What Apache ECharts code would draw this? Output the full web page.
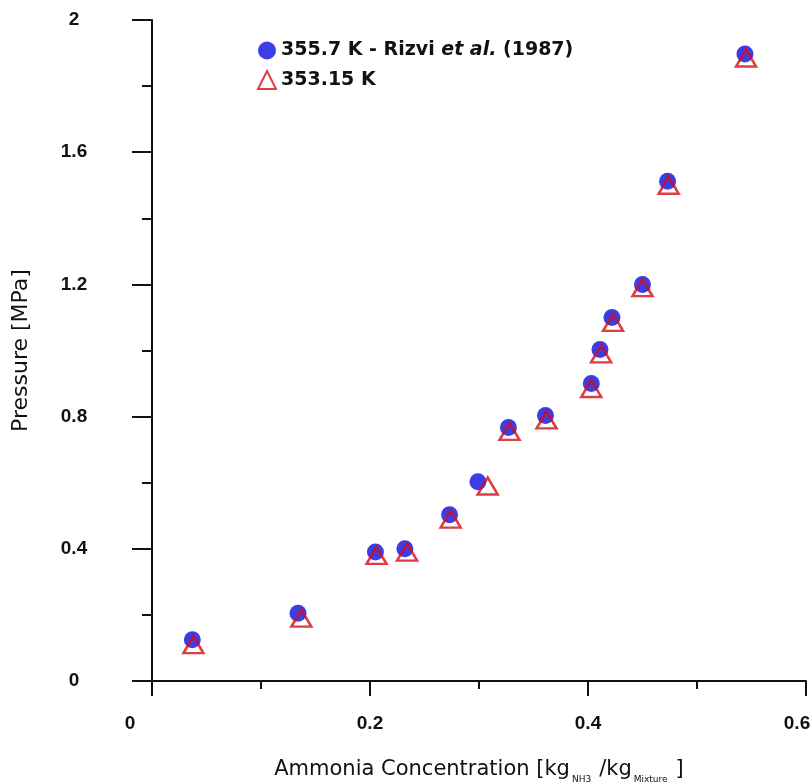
<!DOCTYPE html>
<html>
<head>
<meta charset="utf-8">
<script src="https://cdn.jsdelivr.net/npm/echarts@6/dist/echarts.min.js"></script>
<style>
  html, body { margin: 0; padding: 0; background: #fff; }
  #pressureChart { width: 812px; height: 784px; }
</style>
</head>
<body>
<div id="pressureChart"></div>
<script>
// Rizvi et al. (1987) at 355.7 K
var rizviX = [0.037, 0.134, 0.205, 0.232, 0.273, 0.299, 0.327, 0.361, 0.403, 0.411, 0.422, 0.450, 0.473, 0.544];
var rizviP = [0.125, 0.205, 0.39, 0.40, 0.503, 0.603, 0.767, 0.803, 0.90, 1.003, 1.10, 1.20, 1.512, 1.897];
// model at 353.15 K
var modelX = [0.038, 0.137, 0.206, 0.234, 0.274, 0.308, 0.328, 0.362, 0.403, 0.412, 0.423, 0.450, 0.474, 0.545];
var modelP = [0.11, 0.19, 0.38, 0.39, 0.49, 0.59, 0.755, 0.79, 0.885, 0.99, 1.085, 1.19, 1.50, 1.885];

var seriesNames = ['355.7 K - Rizvi et al. (1987)', '353.15 K'];

function pairs(xs, ys) {
  return xs.map(function (x, i) { return [x, ys[i]]; });
}

document.addEventListener("DOMContentLoaded", () => {
  echarts.init(document.querySelector("#pressureChart")).setOption({
    animation: false,
    backgroundColor: '#fff',
    grid: {
      left: 152,
      right: 6,
      top: 20,
      bottom: 103,
      containLabel: false,
      outerBoundsMode: 'none'
    },
    legend: {
      orient: 'vertical',
      left: 252,
      top: 36,
      itemGap: 10,
      itemWidth: 18,
      itemHeight: 18,
      data: seriesNames,
      formatter: function (name) {
        if (name === seriesNames[0]) return '355.7 K - Rizvi {i|et al.} (1987)';
        return name;
      },
      textStyle: {
        fontFamily: 'DejaVu Sans',
        fontWeight: 'bold',
        fontSize: 19,
        color: '#111',
        rich: {
          i: {
            fontFamily: 'DejaVu Sans',
            fontWeight: 'bold',
            fontStyle: 'italic',
            fontSize: 19,
            color: '#111'
          }
        }
      }
    },
    xAxis: {
      type: 'value',
      min: 0,
      max: 0.6,
      interval: 0.2,
      name: '{a|Ammonia Concentration [kg}{s|NH3}{a|/kg}{s|Mixture}{a|]}',
      nameLocation: 'middle',
      nameGap: 78,
      nameTextStyle: {
        rich: {
          a: {
            fontFamily: 'DejaVu Sans',
            fontSize: 21,
            color: '#111',
            lineHeight: 24,
            verticalAlign: 'top'
          },
          s: {
            fontFamily: 'DejaVu Sans',
            fontSize: 9,
            color: '#111',
            lineHeight: 24,
            verticalAlign: 'top',
            padding: [16, 8, 0, 2]
          }
        }
      },
      axisLine: { lineStyle: { color: '#111', width: 2 } },
      axisTick: { length: 15, lineStyle: { color: '#111', width: 2 } },
      minorTick: { show: true, splitNumber: 2, length: 8, lineStyle: { color: '#111', width: 2 } },
      splitLine: { show: false },
      axisLabel: {
        margin: 33,
        fontFamily: 'Liberation Sans',
        fontWeight: 'bold',
        fontSize: 19,
        color: '#111',
        formatter: function (v) {
          if (v === 0) return '{z|0}';
          if (Math.abs(v - 0.6) < 1e-6) return '{e|0.6}';
          return '{n|' + v.toFixed(1) + '}';
        },
        rich: {
          n: { fontFamily: 'Liberation Sans', fontWeight: 'bold', fontSize: 19, color: '#111' },
          z: { fontFamily: 'Liberation Sans', fontWeight: 'bold', fontSize: 19, color: '#111', padding: [0, 44, 0, 0] },
          e: { fontFamily: 'Liberation Sans', fontWeight: 'bold', fontSize: 19, color: '#111', padding: [0, 18, 0, 0] }
        }
      }
    },
    yAxis: {
      type: 'value',
      min: 0,
      max: 2,
      interval: 0.4,
      name: 'Pressure [MPa]',
      nameLocation: 'middle',
      nameGap: 120,
      nameTextStyle: {
        fontFamily: 'DejaVu Sans',
        fontSize: 22,
        color: '#111'
      },
      axisLine: { lineStyle: { color: '#111', width: 2 } },
      axisTick: { length: 20, lineStyle: { color: '#111', width: 2 } },
      minorTick: { show: true, splitNumber: 2, length: 10, lineStyle: { color: '#111', width: 2 } },
      splitLine: { show: false },
      axisLabel: {
        margin: 78,
        align: 'center',
        fontFamily: 'Liberation Sans',
        fontWeight: 'bold',
        fontSize: 19,
        color: '#111',
        formatter: function (v) {
          return v === 0 || v === 2 ? String(v) : v.toFixed(1);
        }
      }
    },
    series: [{
        name: seriesNames[0],
        type: 'scatter',
        symbol: 'circle',
        symbolSize: 17,
        itemStyle: { color: '#0c0ce0' },
        data: pairs(rizviX, rizviP)
      },
      {
        name: seriesNames[1],
        type: 'scatter',
        symbol: 'triangle',
        symbolSize: [20, 17],
        itemStyle: { color: 'rgba(0,0,0,0)', borderColor: '#d40c14', borderWidth: 2.5 },
        data: pairs(modelX, modelP)
      }
    ]
  });
});
</script>
</body>
</html>
